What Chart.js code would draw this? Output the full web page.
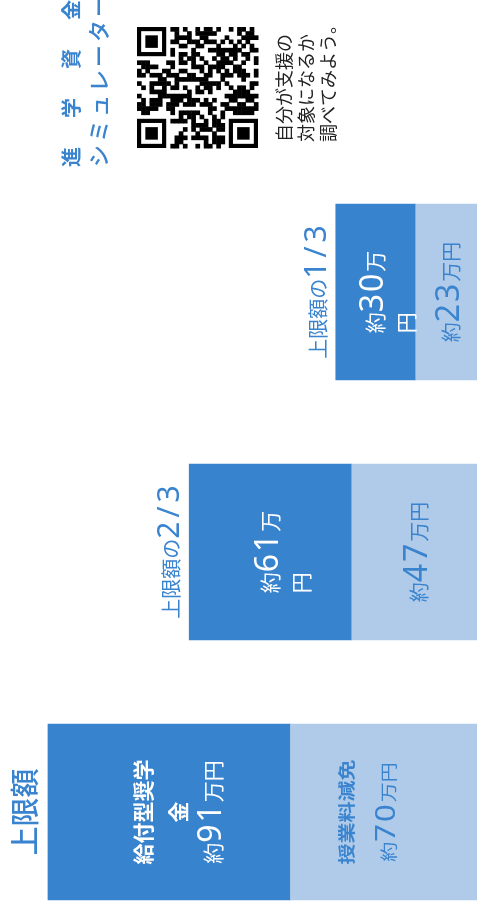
<!DOCTYPE html>
<html>
<head>
<meta charset="utf-8">
<script src="https://cdn.jsdelivr.net/npm/chart.js@4.4.1/dist/chart.umd.min.js"></script>
<style>
    html, body { margin: 0; padding: 0; background: #fff; overflow: hidden; }
    #wrap { width: 477px; height: 911px; }
</style>
</head>
<body>
<div id="wrap"><canvas id="supportChart" width="477" height="911"></canvas></div>
<script>
// Data (万円)
const categories = ['上限額', '上限額の2/3', '上限額の1/3'];
const seriesNames = ['授業料減免', '給付型奨学金'];
const tuitionValues = [70, 47, 23];
const grantValues = [91, 61, 30];
const valueMax = 179;

// Side texts
const titleText = '進学資金';
const subtitleText = 'シミュレーター';
const noteLines = ['自分が支援の', '対象になるか', '調べてみよう。'];

const DARK = '#3883ce';
const LIGHT = '#afcbe9';
const INK = '#3a84cf';
const FONT = '"Noto Sans CJK JP", "Noto Sans", sans-serif';
const NUM_FONT = '"Noto Sans", "Open Sans", sans-serif';

// Font for a single character: digits and "/" use the big size
function charStyle(ch, o) {
    const isNum = /[0-9\/]/.test(ch);
    const size = isNum ? (o.big || o.size) : o.size;
    const weight = isNum ? (o.bigWeight || 'normal') : (o.weight || 'normal');
    return {
        font: weight + ' ' + size + 'px ' + (isNum && o.big ? NUM_FONT : FONT),
        gap: isNum ? (o.digitGap || 0) : (o.gap || 0)
    };
}

function measureLine(ctx, line, o) {
    let w = 0;
    for (const ch of line) {
        const s = charStyle(ch, o);
        ctx.font = s.font;
        w += ctx.measureText(ch).width + s.gap;
    }
    return w;
}

// Greedy wrap by characters
function wrap(ctx, text, maxW, o) {
    const lines = [];
    let cur = '';
    for (const ch of text) {
        if (cur && measureLine(ctx, cur + ch, o) > maxW) {
            lines.push(cur);
            cur = ch;
        } else {
            cur += ch;
        }
    }
    if (cur) lines.push(cur);
    return lines;
}

// Draw lines rotated 90deg counter-clockwise; (x, y) is the centre of the first line
function drawText(ctx, lines, x, y, o) {
    ctx.save();
    ctx.translate(x, y);
    ctx.rotate(-Math.PI / 2);
    ctx.scale(o.sx || 1, o.sy || 1);
    ctx.fillStyle = o.color;
    ctx.textAlign = 'left';
    ctx.textBaseline = 'alphabetic';
    const w0 = measureLine(ctx, lines[0], o);
    lines.forEach((line, k) => {
        const w = measureLine(ctx, line, o);
        let cx = o.align === 'start' ? 0 : (o.align === 'left' ? -w0 / 2 : -w / 2);
        const by = k * (o.lh || o.size * 1.4) + o.size * 0.36;
        for (const ch of line) {
            const s = charStyle(ch, o);
            ctx.font = s.font;
            ctx.fillText(ch, cx, by);
            cx += ctx.measureText(ch).width + s.gap;
        }
    });
    ctx.restore();
}

// Fake QR code block (decorative)
function drawQR(ctx, x, y, size) {
    const n = 29;
    const m = size / n;
    const finders = [[0, 0], [0, n - 7], [n - 7, n - 7]];
    const inFinder = (r, c) => finders.some(([fc, fr]) => c >= fc - 1 && c <= fc + 7 && r >= fr - 1 && r <= fr + 7);
    ctx.save();
    ctx.fillStyle = '#000';
    for (let r = 0; r < n; r++) {
        for (let c = 0; c < n; c++) {
            if (inFinder(r, c)) continue;
            const h = ((r * 73856093) ^ (c * 19349663) ^ (r * c * 83492791)) >>> 0;
            if ((h >> 7) & 1) ctx.fillRect(x + c * m, y + r * m, m + 0.5, m + 0.5);
        }
    }
    finders.forEach(([fc, fr]) => {
        const fx = x + fc * m, fy = y + fr * m;
        ctx.fillStyle = '#000';
        ctx.fillRect(fx, fy, 7 * m, 7 * m);
        ctx.fillStyle = '#fff';
        ctx.fillRect(fx + m, fy + m, 5 * m, 5 * m);
        ctx.fillStyle = '#000';
        ctx.fillRect(fx + 2 * m, fy + 2 * m, 3 * m, 3 * m);
    });
    ctx.restore();
}

const labelPlugin = {
    id: 'labels',
    afterDatasetsDraw(chart) {
        const ctx = chart.ctx;
        const xs = chart.scales.x;
        const ys = chart.scales.y;

        categories.forEach((cat, i) => {
            const yc = ys.getPixelForValue(i);
            const base = xs.getPixelForValue(0);
            const split = xs.getPixelForValue(tuitionValues[i]);
            const top = xs.getPixelForValue(tuitionValues[i] + grantValues[i]);

            // category label above the stack
            if (i === 0) {
                drawText(ctx, [cat], top - 22, yc, { color: INK, size: 29, weight: '500' });
            } else {
                drawText(ctx, [cat], top - 17, yc - 2, { color: INK, size: 20, big: 30, digitGap: 4 });
            }

            // dark segment: 給付型奨学金
            const darkMid = (split + top) / 2;
            const valStyle = { color: '#fff', size: 21, big: 32, digitGap: 2, lh: 31 };
            const grantText = '約' + grantValues[i] + '万円';
            if (i === 0) {
                const nameStyle = { color: '#fff', size: 21, weight: 'bold', lh: 35 };
                const nameLines = wrap(ctx, seriesNames[1], 112, nameStyle);
                drawText(ctx, nameLines, darkMid - 26, yc, nameStyle);
                drawText(ctx, [grantText], darkMid - 26 + nameLines.length * 35, yc, valStyle);
            } else {
                const lines = wrap(ctx, grantText, 92, valStyle);
                drawText(ctx, lines, darkMid, yc, Object.assign({ align: 'left' }, valStyle));
            }

            // light segment: 授業料減免
            const lightMid = (base + split) / 2 + 5;
            const tuitionText = '約' + tuitionValues[i] + '万円';
            if (i === 0) {
                drawText(ctx, [seriesNames[0]], lightMid - 42, yc, { color: INK, size: 21, weight: 'bold', sy: 0.8 });
                drawText(ctx, [tuitionText], lightMid, yc, { color: INK, size: 20, big: 31, digitGap: 2, sy: 0.85 });
            } else {
                drawText(ctx, [tuitionText], lightMid, yc, { color: INK, size: 20, big: 32, digitGap: 2 });
            }
        });

        // simulator block at the far end
        drawText(ctx, [titleText], 72, 167, { color: INK, size: 20, weight: 'bold', gap: 29, align: 'start' });
        drawText(ctx, [subtitleText], 99, 167, { color: INK, size: 22, weight: '500', gap: 3, align: 'start' });
        drawQR(ctx, 137, 27, 121);
        drawText(ctx, noteLines, 285, 142, { color: '#222', size: 18, lh: 22, align: 'start' });
    }
};

new Chart(document.getElementById('supportChart'), {
    type: 'bar',
    data: {
        labels: categories,
        datasets: [
            {
                label: seriesNames[0],
                data: tuitionValues,
                backgroundColor: LIGHT,
                borderWidth: 0,
                barThickness: 176,
                clip: false
            },
            {
                label: seriesNames[1],
                data: grantValues,
                backgroundColor: DARK,
                borderWidth: 0,
                barThickness: 176,
                clip: false
            }
        ]
    },
    options: {
        indexAxis: 'y',
        responsive: false,
        animation: false,
        devicePixelRatio: 1,
        layout: { padding: { top: 292, bottom: 99, left: 0, right: 0 } },
        plugins: {
            legend: { display: false },
            tooltip: { enabled: false }
        },
        scales: {
            x: { stacked: true, reverse: true, min: 0, max: valueMax, display: false },
            y: { stacked: true, reverse: true, offset: false, display: false }
        }
    },
    plugins: [labelPlugin]
});
</script>
</body>
</html>
